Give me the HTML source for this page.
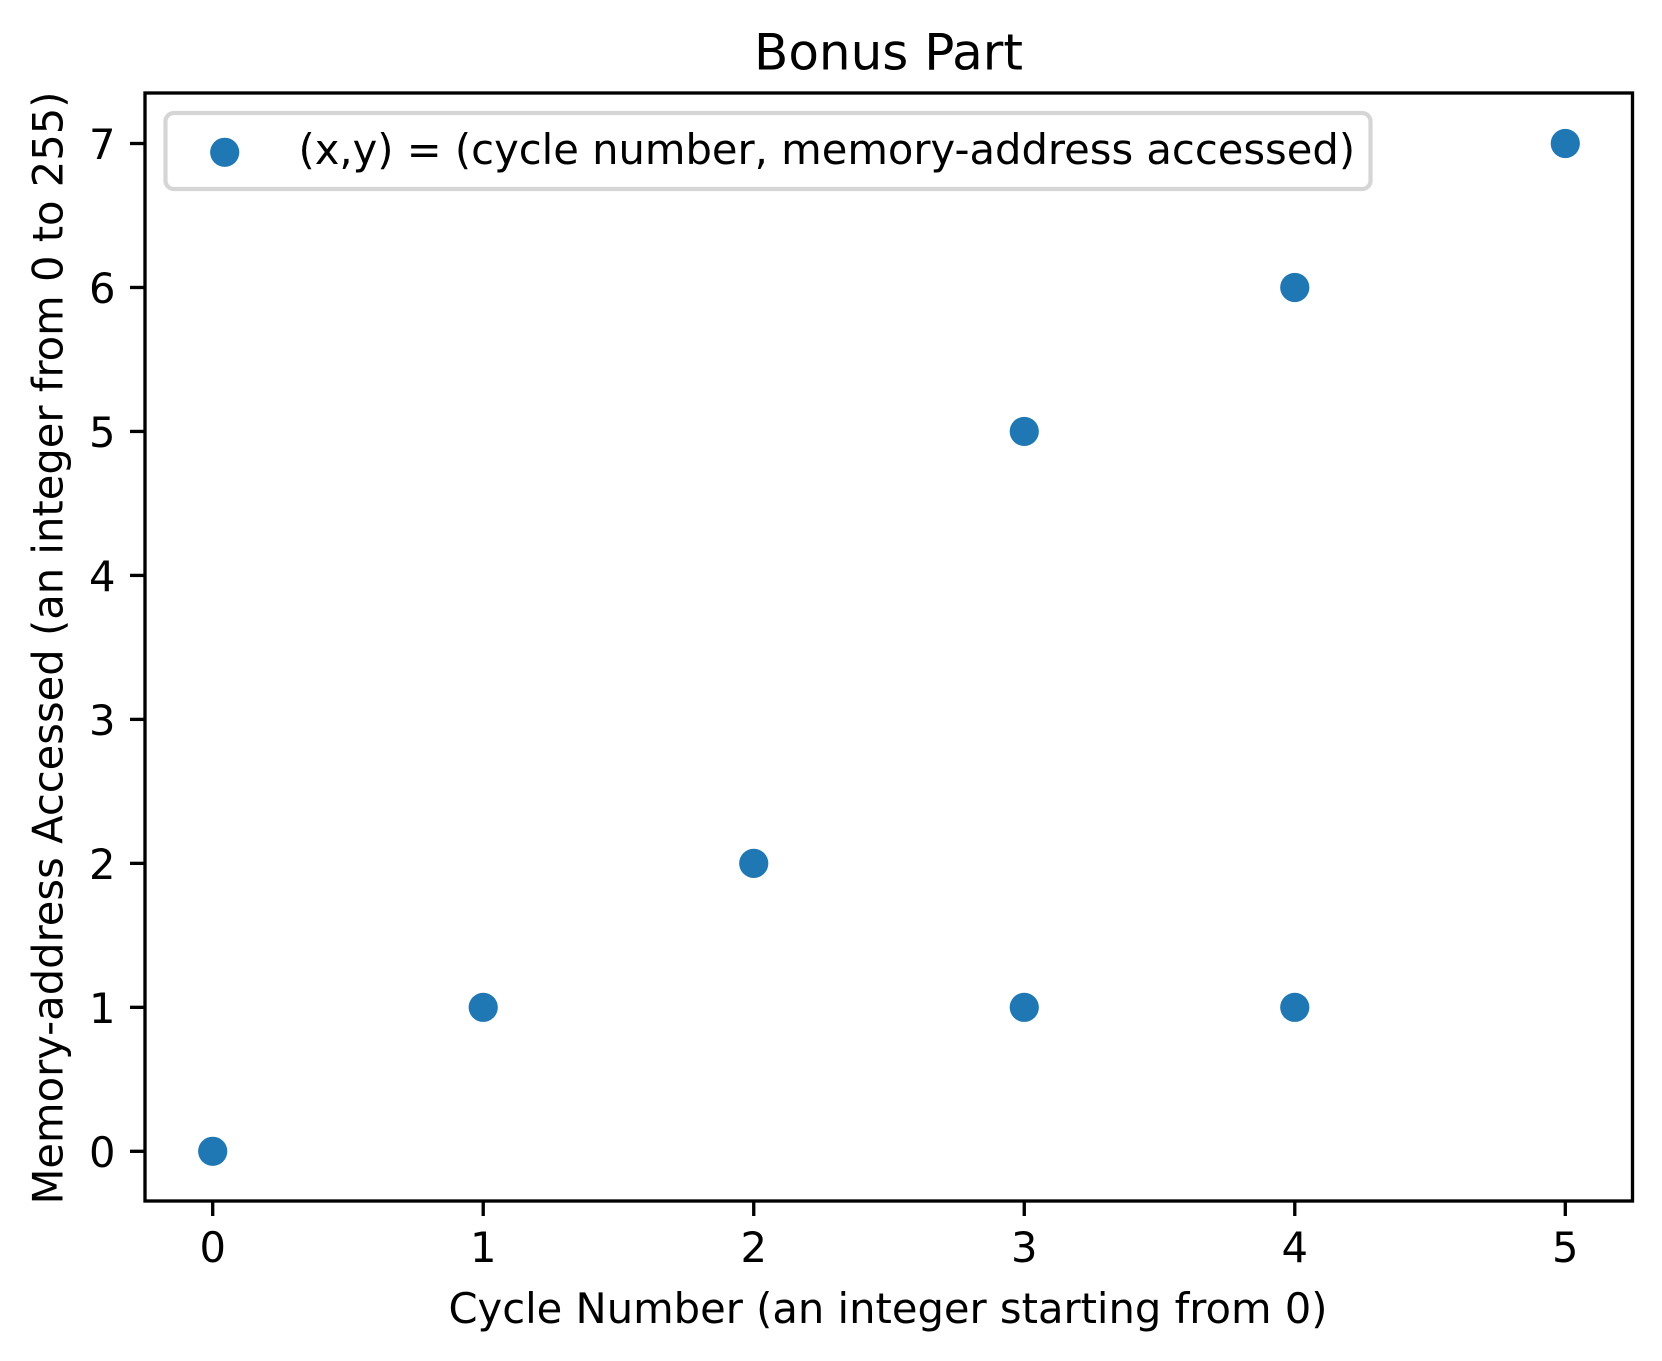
<!DOCTYPE html>
<html lang="en">
<head>
<meta charset="utf-8">
<title>Bonus Part</title>
<style>
  html, body { margin: 0; padding: 0; background: #fff; width: 1662px; height: 1361px; overflow: hidden; }
  svg { display: block; }
  text { font-family: "DejaVu Sans", "Liberation Sans", sans-serif; fill: #000; }
</style>
</head>
<body>
<svg id="chart" xmlns="http://www.w3.org/2000/svg" width="1662" height="1361" viewBox="0 0 1662 1361">
  <rect x="0" y="0" width="1662" height="1361" fill="#ffffff"/>
  <text x="888.5" y="69.5" font-size="50" text-anchor="middle">Bonus Part</text>
  <g id="ticks"></g>
  <g id="points"></g>
  <rect x="145" y="93" width="1487.5" height="1108" fill="none" stroke="#000" stroke-width="3.33"/>
  <g>
    <rect x="165.5" y="113" width="1205" height="76" rx="8.3" ry="8.3" fill="#ffffff" fill-opacity="0.8" stroke="#d5d5d5" stroke-width="4.17"/>
    <circle cx="224.7" cy="152.3" r="14.6" fill="#1f77b4"/>
    <text x="298.5" y="164" font-size="41.67">(x,y) = (cycle number, memory-address accessed)</text>
  </g>
  <text x="888" y="1323" font-size="41.67" text-anchor="middle">Cycle Number (an integer starting from 0)</text>
  <text transform="translate(62.5 648) rotate(-90)" x="0" y="0" font-size="41.67" text-anchor="middle">Memory-address Accessed (an integer from 0 to 255)</text>
</svg>
<script>
const xValues = [0, 1, 2, 3, 3, 4, 4, 5];
const yValues = [0, 1, 2, 1, 5, 1, 6, 7];
const xTickLabels = ["0", "1", "2", "3", "4", "5"];
const yTickLabels = ["0", "1", "2", "3", "4", "5", "6", "7"];

const SVG_NS = "http://www.w3.org/2000/svg";
function xScale(v) { return 212.7 + v * (1565.3 - 212.7) / 5; }
function yScale(v) { return 1151.3 + v * (143.5 - 1151.3) / 7; }

const ticksGroup = document.getElementById("ticks");
const pointsGroup = document.getElementById("points");

xTickLabels.forEach(function (label) {
  const px = xScale(Number(label));
  const line = document.createElementNS(SVG_NS, "line");
  line.setAttribute("x1", px);
  line.setAttribute("x2", px);
  line.setAttribute("y1", 1201);
  line.setAttribute("y2", 1216);
  line.setAttribute("stroke", "#000");
  line.setAttribute("stroke-width", "3.33");
  
  
  ticksGroup.appendChild(line);
  const text = document.createElementNS(SVG_NS, "text");
  text.setAttribute("x", px);
  text.setAttribute("y", 1262);
  text.setAttribute("font-size", "41.67");
  text.setAttribute("text-anchor", "middle");
  text.textContent = label;
  
  
  ticksGroup.appendChild(text);
});

yTickLabels.forEach(function (label) {
  const py = yScale(Number(label));
  const line = document.createElementNS(SVG_NS, "line");
  line.setAttribute("x1", 130);
  line.setAttribute("x2", 145);
  line.setAttribute("y1", py);
  line.setAttribute("y2", py);
  line.setAttribute("stroke", "#000");
  line.setAttribute("stroke-width", "3.33");
  
  
  ticksGroup.appendChild(line);
  const text = document.createElementNS(SVG_NS, "text");
  text.setAttribute("x", 115.5);
  text.setAttribute("y", py + 15.5);
  text.setAttribute("font-size", "41.67");
  text.setAttribute("text-anchor", "end");
  text.textContent = label;
  
  
  ticksGroup.appendChild(text);
});

xValues.forEach(function (xv, i) {
  const dot = document.createElementNS(SVG_NS, "circle");
  dot.setAttribute("cx", xScale(xv));
  dot.setAttribute("cy", yScale(yValues[i]));
  dot.setAttribute("r", "14.6");
  dot.setAttribute("fill", "#1f77b4");
  
  
  pointsGroup.appendChild(dot);
});
</script>
</body>
</html>
